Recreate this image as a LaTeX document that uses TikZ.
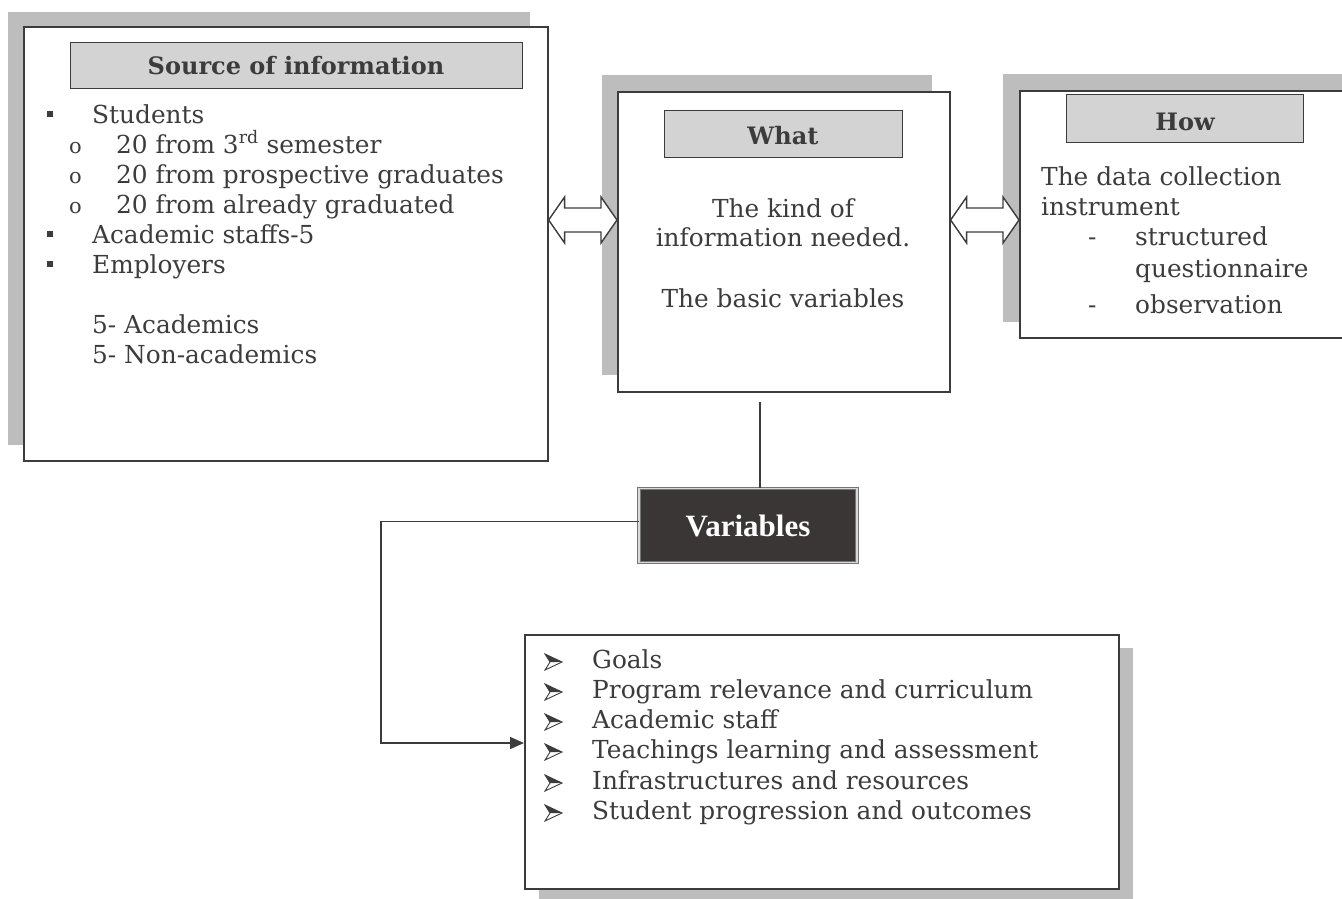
\documentclass[tikz,border=0pt]{standalone}
\usepackage{fontspec}
\setmainfont{DejaVu Serif}
\newfontfamily\varfont{Liberation Serif}
\usetikzlibrary{arrows.meta,calc}
\definecolor{ink}{HTML}{3C3C3C}
\definecolor{shadowgray}{HTML}{BDBDBD}
\definecolor{barfill}{HTML}{D3D3D3}
\definecolor{varfill}{HTML}{3B3636}
% hollow two-headed block arrow between two tip points
\newcommand{\hollowarrow}[2]{%
  \draw[dblarrow] (#1) -- ($(#1)+(16,-23)$) -- ($(#1)+(16,-12)$)
    -- ($(#2)+(-16,-12)$) -- ($(#2)+(-16,-23)$) -- (#2)
    -- ($(#2)+(-16,23)$) -- ($(#2)+(-16,12)$)
    -- ($(#1)+(16,12)$) -- ($(#1)+(16,23)$) -- cycle;}
\begin{document}
\begin{tikzpicture}[x=1pt,y=-1pt,
  panel/.style={draw=ink, line width=1.6pt, fill=white, inner sep=0pt, anchor=north west},
  headbar/.style={draw=ink, line width=1.4pt, fill=barfill, inner sep=0pt, anchor=north west},
  txt/.style={anchor=base west, inner sep=0pt, text=ink, font=\fontsize{24.8}{30}\selectfont},
  ctxt/.style={anchor=base, inner sep=0pt, text=ink, font=\fontsize{24.8}{30}\selectfont},
  head/.style={anchor=base, inner sep=0pt, text=ink, font=\fontsize{24}{28}\selectfont\bfseries},
  sqbullet/.style={fill=ink, minimum size=6pt, inner sep=0pt},
  obullet/.style={anchor=base west, inner sep=0pt, text=ink, font=\fontsize{21}{24}\selectfont},
  link/.style={draw=ink, line width=1.4pt},
  dblarrow/.style={draw=ink, line width=1.4pt, fill=white, line join=miter},
  % arrowhead bullet: dark upper half, outlined lower half
  arrowmark/.pic={
    \fill[ink] (0,-8) -- (17,0) -- (5,0) -- cycle;
    \draw[ink, line width=0.9pt, line join=miter] (0,-8) -- (17,0) -- (0,8) -- (5,0) -- cycle;
  },
]
\useasboundingbox (0,0) rectangle (1342,899);
\clip (0,0) rectangle (1342,899);

% drop shadows
\fill[shadowgray] (8,12) rectangle (530,445);
\fill[shadowgray] (602,75) rectangle (932,375);
\fill[shadowgray] (1003,74) rectangle (1364,322);
\fill[shadowgray] (539,648) rectangle (1133,910);

% panels
\node[panel, minimum width=524pt, minimum height=434pt] (src) at (23,26) {};
\node[panel, minimum width=332pt, minimum height=300pt] (what) at (617,91) {};
\node[panel, minimum width=360pt, minimum height=247pt] (how) at (1019,90) {};
\node[panel, minimum width=594pt, minimum height=254pt] (list) at (524,634) {};

% header bars
\node[headbar, minimum width=452pt, minimum height=46pt] (srchead) at (70,42) {};
\node[headbar, minimum width=238pt, minimum height=47pt] (whathead) at (664,110) {};
\node[headbar, minimum width=237pt, minimum height=48pt] (howhead) at (1066,94) {};
\node[head] (srctitle) at (296,75) {Source of information};
\node[head] (whattitle) at (783,144) {What};
\node[head] (howtitle) at (1185,130) {How};

% source of information
\node[sqbullet] (b1) at (50,114) {};
\node[txt] (s1) at (92,123) {Students};
\node[obullet] (o1) at (69,153) {o};
\node[txt] (s2) at (116,153) {20 from 3\textsuperscript{rd} semester};
\node[obullet] (o2) at (69,183) {o};
\node[txt] (s3) at (116,183) {20 from prospective graduates};
\node[obullet] (o3) at (69,213) {o};
\node[txt] (s4) at (116,213) {20 from already graduated};
\node[sqbullet] (b2) at (50,234) {};
\node[txt] (s5) at (92,243) {Academic staffs-5};
\node[sqbullet] (b3) at (50,264) {};
\node[txt] (s6) at (92,273) {Employers};
\node[txt] (s7) at (92,333) {5- Academics};
\node[txt] (s8) at (92,363) {5- Non-academics};

% what
\node[ctxt] (w1) at (783,217) {The kind of};
\node[ctxt] (w2) at (783,246) {information needed.};
\node[ctxt] (w3) at (783,307) {The basic variables};

% how
\node[txt] (h1) at (1041,185) {The data collection};
\node[txt] (h2) at (1041,215) {instrument};
\node[txt] (d1) at (1088,245) {-};
\node[txt] (h3) at (1135,245) {structured};
\node[txt] (h4) at (1135,277) {questionnaire};
\node[txt] (d2) at (1088,313) {-};
\node[txt] (h5) at (1135,313) {observation};

% variables list
\foreach \yy/\item [count=\i] in {668/Goals, 698/Program relevance and curriculum,
    728/Academic staff, 758/Teachings learning and assessment,
    789/Infrastructures and resources, 819/Student progression and outcomes}{
  \pic (ab\i) at (545,\yy-6) {arrowmark};
  \node[txt] (li\i) at (592,\yy) {\item};
}

% variables label
\node[fill=varfill, draw=ink!70, double=white!85!black, double distance=1.2pt,
      line width=1pt, minimum width=218pt, minimum height=74pt, inner sep=0pt,
      text=white, font=\varfont\bfseries\fontsize{31}{34}\selectfont] (var) at (748,525.5) {Variables};

% two-way links between the top panels
\coordinate (a1l) at (src.east |- 0,220);
\coordinate (a1r) at (what.west |- 0,220);
\coordinate (a2l) at (what.east |- 0,220);
\coordinate (a2r) at (how.west |- 0,220);
\hollowarrow{a1l}{a1r}
\hollowarrow{a2l}{a2r}

% connectors
\coordinate (drop) at (760,402);
\coordinate (bend) at (381,743);
\draw[link] (drop) -- (drop |- var.north);
\draw[link, -{Triangle[length=14pt,width=12pt]}] ([yshift=4pt]var.west) -| (bend) -- (list.west |- bend);
\end{tikzpicture}
\end{document}
